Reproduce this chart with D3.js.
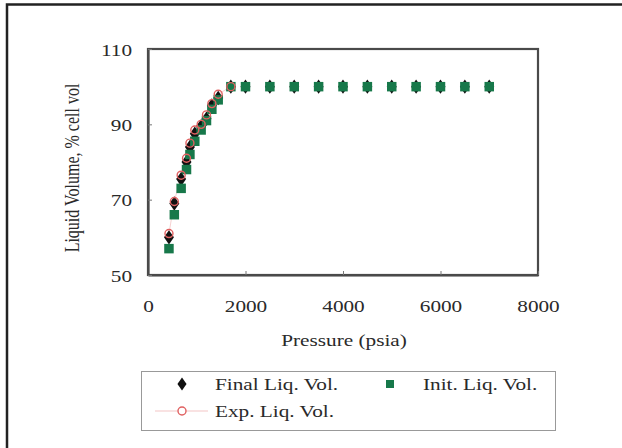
<!DOCTYPE html>
<html><head><meta charset="utf-8">
<script src="https://cdn.jsdelivr.net/npm/d3@7"></script>
<style>
html,body{margin:0;padding:0;background:#fff;}
svg{display:block;}
text{font-family:"Liberation Serif","Times New Roman",serif;fill:#2a2a2a;}
</style></head>
<body><svg id="c" width="622" height="448"></svg>
<script>
const pressure = [430, 540, 680, 790, 860, 960, 1090, 1200, 1310, 1440, 1700, 2000, 2500, 3000, 3500, 4000, 4500, 5000, 5500, 6000, 6500, 7000];
const finalVol = [60, 69, 75.5, 80, 84, 87.5, 89.5, 91.5, 95, 97, 100, 100, 100, 100, 100, 100, 100, 100, 100, 100, 100, 100];
const initVol  = [57, 66, 73, 78, 82, 85.5, 88.5, 91, 94, 96.5, 100, 100, 100, 100, 100, 100, 100, 100, 100, 100, 100, 100];
const expPressure = [430, 540, 680, 790, 860, 960, 1090, 1200, 1310, 1440, 1700];
const expVol = [61, 69.5, 76.5, 81, 85, 88.5, 90, 92.5, 95.5, 98, 100];
const xTicks = [0, 2000, 4000, 6000, 8000];
const yTicks = [50, 70, 90, 110];
const seriesNames = ["Final Liq. Vol.", "Init. Liq. Vol.", "Exp. Liq. Vol."];

const svg = d3.select("#c");
const green = "#17784a", red = "#e06060";
const SX = 1.25; // horizontal stretch of text in reference
// outer frame (left and top visible)
svg.append("path").attr("d","M7,460 V4.5 H640")
  .attr("fill","none").attr("stroke","#222").attr("stroke-width",2.5);

const L=148, R=538, T=49, B=275;
const x = d3.scaleLinear().domain([0,8000]).range([L,R]);
const y = d3.scaleLinear().domain([50,110]).range([B,T]);

// plot box
svg.append("rect").attr("x",L).attr("y",T).attr("width",R-L).attr("height",B-T)
  .attr("fill","none").attr("stroke","#4a4a4a").attr("stroke-width",2.2);

const xa = svg.append("g").attr("transform",`translate(0,${B})`)
  .call(d3.axisBottom(x).tickValues(xTicks).tickSizeInner(-4).tickSizeOuter(0).tickFormat(d3.format("d")));
const ya = svg.append("g").attr("transform",`translate(${L},0)`)
  .call(d3.axisLeft(y).tickValues(yTicks).tickSizeInner(-4).tickSizeOuter(0));
[xa,ya].forEach(a=>{
  a.select(".domain").attr("stroke","#4a4a4a").attr("stroke-width",2.2);
  a.selectAll(".tick line").attr("stroke","#777").attr("stroke-width",1);
});
xa.selectAll(".tick text").attr("y",null).attr("dy",null)
  .attr("transform",`translate(0,37) scale(${SX},1)`).style("font-size","17px").attr("fill","#333");
ya.selectAll(".tick text").attr("x",null).attr("dy",null)
  .attr("transform",`translate(-16,6) scale(${SX},1)`).style("font-size","17px").attr("fill","#333");

// exp line
svg.append("path").datum(expPressure.map((p,i)=>[p,expVol[i]]))
  .attr("d", d3.line().x(d=>x(d[0])).y(d=>y(d[1])))
  .attr("fill","none").attr("stroke",red).attr("stroke-width",0.6).attr("opacity",0.5);

// final diamonds
const dia = d3.symbol().type(d3.symbolDiamond).size(60);
svg.append("g").selectAll("path").data(pressure.map((p,i)=>[p,finalVol[i]])).join("path")
  .attr("d",dia).attr("transform",d=>`translate(${x(d[0])},${y(d[1])}) scale(1.2,1)`).attr("fill","#111");
// init squares
const sq = d3.symbol().type(d3.symbolSquare).size(90);
svg.append("g").selectAll("path").data(pressure.map((p,i)=>[p,initVol[i]])).join("path")
  .attr("d",sq).attr("transform",d=>`translate(${x(d[0])},${y(d[1])})`).attr("fill",green);
// exp circles
svg.append("g").selectAll("circle").data(expPressure.map((p,i)=>[p,expVol[i]])).join("circle")
  .attr("cx",d=>x(d[0])).attr("cy",d=>y(d[1])).attr("r",4)
  .attr("fill","none").attr("stroke",red).attr("stroke-width",1.4);

// axis titles
svg.append("text").attr("transform",`translate(344,346) scale(${SX},1)`).attr("text-anchor","middle")
  .style("font-size","17px").text("Pressure (psia)");
svg.append("text").attr("transform",`translate(79,168) rotate(-90) scale(1,${SX})`).attr("text-anchor","middle")
  .style("font-size","16px").text("Liquid Volume, % cell vol");

// legend
const lg = svg.append("g");
lg.append("rect").attr("x",141.5).attr("y",371.5).attr("width",414).attr("height",59)
  .attr("fill","none").attr("stroke","#999").attr("stroke-width",1);
lg.append("path").attr("d",d3.symbol().type(d3.symbolDiamond).size(50)).attr("transform","translate(182,384) scale(1.2,1)").attr("fill","#111");
lg.append("text").attr("transform",`translate(215,390) scale(${SX},1)`).style("font-size","17px").text(seriesNames[0]);
lg.append("rect").attr("x",386).attr("y",380).attr("width",8).attr("height",8).attr("fill",green);
lg.append("text").attr("transform",`translate(423,390) scale(${SX},1)`).style("font-size","17px").text(seriesNames[1]);
lg.append("line").attr("x1",155).attr("x2",208).attr("y1",411).attr("y2",411).attr("stroke",red).attr("stroke-width",0.6).attr("opacity",0.6);
lg.append("circle").attr("cx",182).attr("cy",411).attr("r",4).attr("fill","#fff").attr("stroke",red).attr("stroke-width",1.4);
lg.append("text").attr("transform",`translate(215,417) scale(${SX},1)`).style("font-size","17px").text(seriesNames[2]);
</script></body></html>
